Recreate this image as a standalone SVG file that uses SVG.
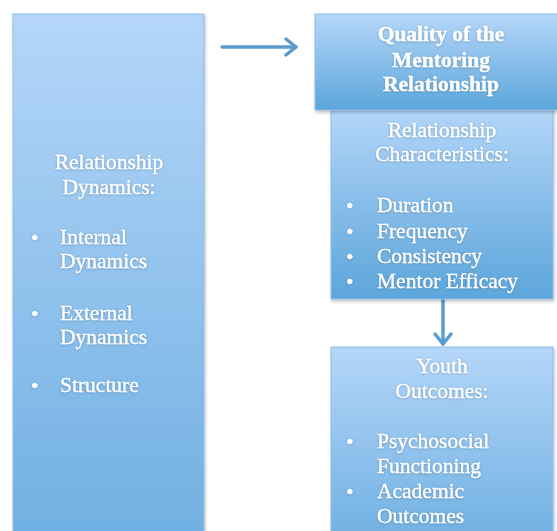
<svg xmlns="http://www.w3.org/2000/svg" width="557" height="531" viewBox="0 0 557 531">
<defs>
<linearGradient id="gLeft" x1="0" y1="0" x2="0" y2="1">
<stop offset="0" stop-color="#b5d6f9"/>
<stop offset="1" stop-color="#6badE0"/>
</linearGradient>
<linearGradient id="gBox" x1="0" y1="0" x2="0" y2="1">
<stop offset="0" stop-color="#b5d6f9"/>
<stop offset="1" stop-color="#5ca6db"/>
</linearGradient>
<linearGradient id="gYouth" x1="0" y1="0" x2="0" y2="1">
<stop offset="0" stop-color="#b5d6f9"/>
<stop offset="1" stop-color="#62a9dd"/>
</linearGradient>
<filter id="shadow" x="-10%" y="-10%" width="130%" height="130%">
<feDropShadow dx="1" dy="2" stdDeviation="1.5" flood-color="#000" flood-opacity="0.25"/>
</filter>
<filter id="tshadow" x="-10%" y="-20%" width="120%" height="140%">
<feDropShadow dx="0" dy="0.5" stdDeviation="0.8" flood-color="#3a5a7a" flood-opacity="0.45"/>
</filter>
<marker id="arrow" markerWidth="16" markerHeight="20" refX="12" refY="10" orient="auto" markerUnits="userSpaceOnUse">
<polyline points="2,2 12,10 2,18" fill="none" stroke="#5b9ccf" stroke-width="3.5" stroke-linecap="round" stroke-linejoin="round"/>
</marker>
</defs>
<style>
.box{stroke:#8dbde6;stroke-width:1;filter:url(#shadow)}
text{font-family:"Liberation Serif","Times New Roman",serif;font-size:21.5px;fill:#ffffff;stroke:#ffffff;stroke-width:0.3;filter:url(#tshadow)}
.c{text-anchor:middle}
.b{font-weight:bold}
.conn{fill:none;stroke:#5b9ccf;stroke-width:3.5;stroke-linecap:round;marker-end:url(#arrow)}
</style>
<rect width="557" height="531" fill="#ffffff"/>
<g id="connectors">
<line class="conn" x1="222" y1="47" x2="296" y2="47"/>
<line class="conn" x1="443" y1="300" x2="443" y2="344"/>
</g>
<g id="dynamics">
<rect class="box" x="13" y="14" width="191" height="560" fill="url(#gLeft)"/>
<text class="c" x="109" y="169">Relationship</text>
<text class="c" x="109" y="194">Dynamics:</text>
<text x="31" y="245">•</text>
<text x="60" y="244">Internal</text>
<text x="60" y="268">Dynamics</text>
<text x="31" y="321">•</text>
<text x="60" y="320">External</text>
<text x="60" y="344">Dynamics</text>
<text x="31" y="393">•</text>
<text x="60" y="392">Structure</text>
</g>
<g id="characteristics">
<rect class="box" x="331" y="106" width="222" height="193" fill="url(#gBox)"/>
<text class="c" x="442" y="137">Relationship</text>
<text class="c" x="442" y="161">Characteristics:</text>
<text x="346" y="213">•</text>
<text x="377" y="212">Duration</text>
<text x="346" y="239">•</text>
<text x="377" y="238">Frequency</text>
<text x="346" y="264">•</text>
<text x="377" y="263">Consistency</text>
<text x="346" y="289">•</text>
<text x="377" y="288">Mentor Efficacy</text>
</g>
<g id="quality">
<rect class="box" x="315" y="14" width="250" height="96" fill="url(#gBox)"/>
<text class="c b" x="441" y="41">Quality of the</text>
<text class="c b" x="441" y="67">Mentoring</text>
<text class="c b" x="441" y="91">Relationship</text>
</g>
<g id="outcomes">
<rect class="box" x="331" y="347" width="222" height="230" fill="url(#gYouth)"/>
<text class="c" x="442" y="373">Youth</text>
<text class="c" x="442" y="398">Outcomes:</text>
<text x="346" y="449">•</text>
<text x="377" y="448">Psychosocial</text>
<text x="377" y="473">Functioning</text>
<text x="346" y="499">•</text>
<text x="377" y="498">Academic</text>
<text x="377" y="523">Outcomes</text>
</g>
</svg>
